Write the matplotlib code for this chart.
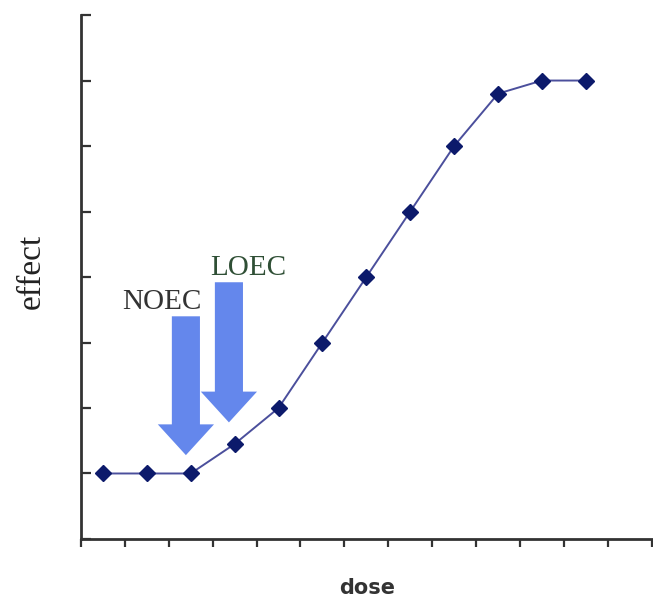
import matplotlib
matplotlib.use("Agg")
import matplotlib.pyplot as plt
from matplotlib.patches import FancyArrow

# dose categories (points sit in the middle of each category slot)
dose = [0.5, 1.5, 2.5, 3.5, 4.5, 5.5, 6.5, 7.5, 8.5, 9.5, 10.5, 11.5]
effect = [1.0, 1.0, 1.0, 1.45, 2.0, 3.0, 4.0, 5.0, 6.0, 6.8, 7.0, 7.0]

x_ticks = list(range(0, 14))
y_ticks = list(range(0, 9))

# NOEC / LOEC markers: (x centre, top, tip)
noec = (2.39, 3.40, 1.28)
loec = (3.37, 3.92, 1.78)

fig = plt.figure(figsize=(6.53, 6.02), dpi=100)
ax = fig.add_axes([0.124, 0.1047, 0.874, 0.8703])

ax.plot(dose, effect, color="#4b4f9c", lw=1.4, zorder=3)
ax.plot(dose, effect, ls="none", marker="D", ms=8.5, color="#0c1a6b", zorder=4)

arrow_col = "#6487ec"
for (xc, top, tip) in (noec, loec):
    ax.add_patch(FancyArrow(xc, top, 0, tip - top, width=0.64, head_width=1.28,
                            head_length=0.47, length_includes_head=True,
                            color=arrow_col, lw=0, zorder=2))

ax.text(1.85, 3.62, "NOEC", family="Liberation Serif", fontsize=21,
        color="#333333", ha="center", va="center")
ax.text(3.8, 4.13, "LOEC", family="Liberation Serif", fontsize=21,
        color="#2f4f35", ha="center", va="center")

ax.set_xlim(0, 13)
ax.set_ylim(0, 8)
ax.set_xticks(x_ticks)
ax.set_yticks(y_ticks)
ax.tick_params(axis="x", direction="out", length=6, width=1.6, color="#333333",
               labelbottom=False)
ax.tick_params(axis="y", direction="in", length=7, width=1.6, color="#333333",
               labelleft=False)
for s in ("top", "right"):
    ax.spines[s].set_visible(False)
for s in ("left", "bottom"):
    ax.spines[s].set_linewidth(2)
    ax.spines[s].set_color("#333333")

fig.text(0.049, 0.55, "effect", family="Liberation Serif", fontsize=24,
         rotation=90, ha="center", va="center", color="#222222")
fig.text(0.562, 0.023, "dose", fontsize=15, fontweight="bold",
         ha="center", va="center", color="#333333")

fig.savefig("out.png", dpi=100)
